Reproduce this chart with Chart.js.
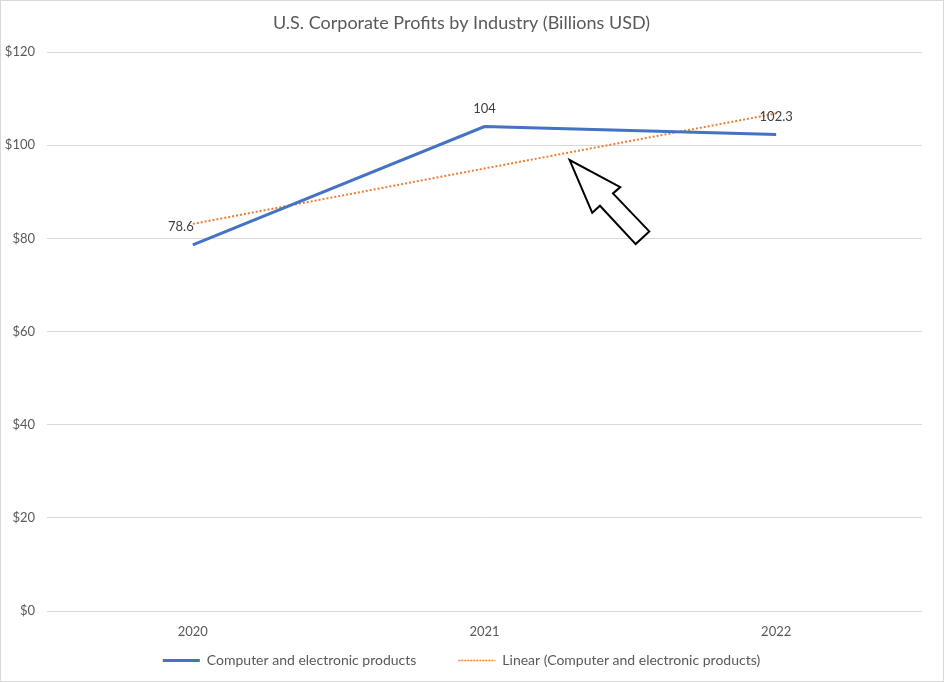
<!DOCTYPE html>
<html>
<head>
<meta charset="utf-8">
<script src="https://cdn.jsdelivr.net/npm/chart.js@4.4.1/dist/chart.umd.min.js"></script>
<style>
  html, body { margin: 0; padding: 0; background: #fff; }
  #wrap { width: 942px; height: 680px; border: 1px solid #d9d9d9; position: relative; }
</style>
</head>
<body>
<div id="wrap"><canvas id="myChart"></canvas></div>
<script>
const years = ['2020', '2021', '2022'];
const profits = [78.6, 104, 102.3];
// linear trendline
const trend = [83.1, 95.0, 106.8];
const yTicks = [0, 20, 40, 60, 80, 100, 120];

const blue = '#4472C4';
const orange = '#ED7D31';
const grey = '#595959';
const font = 'Lato';

// value labels above each point of the main series
const valueLabels = {
    id: 'valueLabels',
    afterDatasetsDraw(chart) {
        const ctx = chart.ctx;
        const meta = chart.getDatasetMeta(0);
        const dx = [-12, 0, 0];
        ctx.save();
        ctx.font = '13px ' + font;
        ctx.fillStyle = '#404040';
        ctx.textAlign = 'center';
        ctx.textBaseline = 'middle';
        meta.data.forEach((pt, i) => {
            ctx.fillText(String(profits[i]), pt.x + dx[i], pt.y - 18);
        });
        ctx.restore();
    }
};

// block arrow callout, tip anchored in data space
const arrow = {
    id: 'arrow',
    afterDatasetsDraw(chart) {
        const ctx = chart.ctx;
        const tx = chart.scales.x.getPixelForValue(1.292);
        const ty = chart.scales.y.getPixelForValue(96.8);
        const pts = [[0, 0], [22.6, 52.7], [30.3, 45.7], [66, 84], [79.6, 71.3], [43.3, 33.3], [50.6, 27]];
        ctx.save();
        ctx.beginPath();
        pts.forEach((p, i) => {
            if (i === 0) ctx.moveTo(tx + p[0], ty + p[1]);
            else ctx.lineTo(tx + p[0], ty + p[1]);
        });
        ctx.closePath();
        ctx.fillStyle = '#fff';
        ctx.fill();
        ctx.lineWidth = 2;
        ctx.lineJoin = 'miter';
        ctx.strokeStyle = '#000';
        ctx.stroke();
        ctx.restore();
    }
};

const ctx = document.getElementById('myChart');

new Chart(ctx, {
    type: 'line',
    data: {
        labels: years,
        datasets: [{
            label: 'Computer and electronic products',
            data: profits,
            borderColor: blue,
            backgroundColor: blue,
            borderWidth: 3,
            pointRadius: 0,
            tension: 0
        }, {
            label: 'Linear (Computer and electronic products)',
            data: trend,
            borderColor: orange,
            backgroundColor: orange,
            borderWidth: 2,
            borderDash: [2, 2],
            pointRadius: 0,
            tension: 0
        }]
    },
    options: {
        responsive: true,
        maintainAspectRatio: false,
        animation: false,
        layout: { padding: { left: 0, right: 21, top: 0, bottom: 3.4 } },
        plugins: {
            title: {
                display: true,
                text: 'U.S. Corporate Profits by Industry (Billions USD)',
                color: grey,
                font: { family: font, size: 18, weight: 'normal' },
                padding: { top: 11, bottom: 18.4 }
            },
            legend: {
                position: 'bottom',
                labels: {
                    color: grey,
                    font: { family: font, size: 14 },
                    boxWidth: 37,
                    boxHeight: 0,
                    padding: 14,
                    generateLabels(chart) {
                        return chart.data.datasets.map((ds, i) => ({
                            // extra spaces widen the gap between the two entries
                            text: i === 0 ? ds.label + '\u2003\u2003\u2002' : ds.label,
                            fillStyle: 'rgba(0,0,0,0)',
                            strokeStyle: ds.borderColor,
                            lineWidth: i === 0 ? 3 : 1.5,
                            lineDash: i === 0 ? [] : [1.5, 1.5],
                            fontColor: grey,
                            datasetIndex: i
                        }));
                    }
                }
            },
            tooltip: { enabled: false }
        },
        scales: {
            x: {
                offset: true,
                grid: { display: false, drawTicks: false },
                border: { display: false },
                ticks: {
                    color: grey,
                    font: { family: font, size: 13 },
                    padding: 13
                },
                afterFit(scale) { scale.height = 28.6; }
            },
            y: {
                min: 0,
                max: 120,
                afterBuildTicks(scale) {
                    scale.ticks = yTicks.map(v => ({ value: v }));
                },
                grid: { color: '#d9d9d9', drawTicks: false },
                border: { display: false },
                ticks: {
                    color: grey,
                    font: { family: font, size: 13 },
                    padding: 12,
                    callback: v => '$' + v
                },
                afterFit(scale) { scale.width = 46; }
            }
        }
    },
    plugins: [valueLabels, arrow]
});
</script>
</body>
</html>
